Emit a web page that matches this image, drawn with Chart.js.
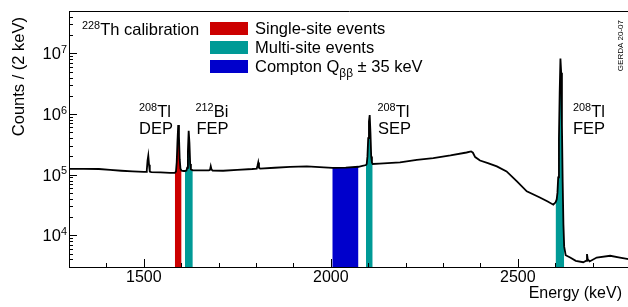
<!DOCTYPE html>
<html><head><meta charset="utf-8">
<script src="https://cdn.jsdelivr.net/npm/chart.js@4.4.1/dist/chart.umd.min.js"></script>
<style>html,body{margin:0;padding:0;background:#fff;overflow:hidden;width:628px;height:307px}canvas{display:block}</style>
</head><body>
<canvas id="c" width="632" height="307" style="width:632px;height:307px"></canvas>
<script>
// ---- data ----
const energy = [1300,1340,1380,1410,1440,1470,1500,1506,1508,1510,1512,1514,1516,1520,1545,1570,
  1583,1586,1588,1590,1592,1594,1596,1598,1601,1606,1610,1614,1616,1618,1620,1622,1624,1626,1631,
  1650,1674,1677,1679,1681,1684,1712,1750,1790,1802,1804,1806,1808,1811,1850,1891,1936,1970,
  2004,2040,2074,2090,2094,2096,2098,2100,2102,2104,2106,2108,2110,2112,2130,2185,2230,2274,2320,
  2363,2375,2380,2386,2399,2420,2444,2470,2497,2524,2559,2580,2595,2601,2604,2606,2608,2610,2612,
  2614,2616,2618,2620,2622,2624,2628,2640,2655,2675,2683,2685,2687,2692,2711,2747,2773,2800];
const counts = [1.25e5,1.25e5,1.24e5,1.2e5,1.16e5,1.13e5,1.11e5,1.11e5,1.18e5,1.7e5,2.05e5,1.45e5,1.12e5,1.1e5,1.09e5,1.07e5,
  1.07e5,1.12e5,1.6e5,3.5e5,6.6e5,4.3e5,1.8e5,1.25e5,1.16e5,1.15e5,1.15e5,1.17e5,1.3e5,2.5e5,5.3e5,3.4e5,1.5e5,1.22e5,1.18e5,
  1.18e5,1.18e5,1.2e5,1.38e5,1.22e5,1.17e5,1.16e5,1.2e5,1.24e5,1.26e5,1.4e5,1.59e5,1.3e5,1.26e5,1.3e5,1.34e5,1.37e5,1.33e5,
  1.29e5,1.31e5,1.35e5,1.42e5,1.44e5,1.5e5,2.0e5,4.0e5,7.5e5,9.6e5,5.0e5,2.0e5,1.58e5,1.5e5,1.52e5,1.59e5,1.76e5,1.88e5,2.08e5,
  2.32e5,2.42e5,2.3e5,1.95e5,1.71e5,1.55e5,1.37e5,1.13e5,7.8e4,5.3e4,4.2e4,3.6e4,3.2e4,3.5e4,3.9e4,5.0e4,9.0e4,4.0e5,2.3e6,
  8.2e6,4.8e6,6.5e5,7.5e4,1.5e4,6.5e3,4.7e3,4.3e3,3.8e3,3.6e3,3.8e3,4.9e3,4.0e3,3.7e3,4.3e3,4.6e3,4.3e3,4.0e3];
const singleSiteRanges = [[1583,1601]];
const multiSiteRanges = [[1610,1631],[2094,2112],[2601,2624]];
const comptonRanges = [[2004,2074]];
const legendLabels = ['Single-site events','Multi-site events','Compton Q'];
const xRange = [1300,2800];
const xTickStep = 100;
const xTickLabels = [1500,2000,2500];
const yRange = [3000,5e7];
const yDecades = [4,5,6,7];

// ---- styling ----
const FONT = '"Liberation Sans", Arial, Helvetica, sans-serif';
const RED = '#cc0000', TEAL = '#009a96', BLUE = '#0000cc';

const pts = energy.map((e,i)=>({x:e,y:counts[i]}));
function band(r,color){
  return {data: pts.filter(p=>p.x>=r[0]&&p.x<=r[1]), borderWidth:0, backgroundColor:color, fill:'start', pointRadius:0};
}
const datasets = [
  {data: pts, borderColor:'#000', borderWidth:1.8, fill:false, pointRadius:0},
  ...singleSiteRanges.map(r=>band(r,RED)),
  ...multiSiteRanges.map(r=>band(r,TEAL)),
  ...comptonRanges.map(r=>band(r,BLUE))
];

const xTicks = [];
for (let v=xRange[0]; v<=xRange[1]; v+=xTickStep) xTicks.push(v);
const yTicks = [];
for (let d=3; d<=7; d++) for (let m=1; m<=9; m++) { const v=m*Math.pow(10,d); if (v>=yRange[0]&&v<=yRange[1]) yTicks.push(v); }

function segWidth(ctx,segs,size){
  let w=0;
  for (const s of segs){ ctx.font=((s.sup||s.sub)?size*0.66:size)+'px '+FONT; w+=ctx.measureText(s.t).width; }
  return w;
}
function rich(ctx,x,y,segs,size){
  ctx.textAlign='left'; ctx.textBaseline='alphabetic';
  for (const s of segs){
    let fs=size, dy=0;
    if (s.sup){fs=size*0.66; dy=-6.5;}
    if (s.sub){fs=size*0.72; dy=5.5;}
    ctx.font=fs+'px '+FONT;
    ctx.fillText(s.t,x,y+dy);
    x+=ctx.measureText(s.t).width;
  }
}

const annot = {
  id:'annot',
  afterDraw(chart){
    const {ctx, chartArea:a, scales:{x:xs,y:ys}} = chart;
    ctx.save();
    ctx.strokeStyle='#000'; ctx.lineWidth=1;
    // top frame line
    ctx.beginPath(); ctx.moveTo(a.left,a.top+0.5); ctx.lineTo(a.right,a.top+0.5); ctx.stroke();
    // inward ticks
    ctx.beginPath();
    for (const v of xTicks){
      const px=Math.round(xs.getPixelForValue(v))+0.5;
      const len = xTickLabels.includes(v)?8:4;
      ctx.moveTo(px,a.bottom); ctx.lineTo(px,a.bottom-len);
    }
    for (const v of yTicks){
      const py=Math.round(ys.getPixelForValue(v))+0.5;
      const major = yDecades.some(d=>Math.abs(v-Math.pow(10,d))<1e-6*v);
      ctx.moveTo(a.left,py); ctx.lineTo(a.left+(major?8:4),py);
    }
    ctx.stroke();

    ctx.fillStyle='#000';
    // y tick labels 10^n
    for (const d of yDecades){
      const py=ys.getPixelForValue(Math.pow(10,d));
      const segs=[{t:'10'},{t:String(d),sup:true}];
      const w=segWidth(ctx,segs,16.5);
      rich(ctx,67-w,py+6,segs,16.5);
    }
    const S=16.5;
    // title
    rich(ctx,82,35,[{t:'228',sup:true},{t:'Th calibration'}],S);
    // peak labels
    rich(ctx,139,117,[{t:'208',sup:true},{t:'Tl'}],S);
    rich(ctx,139,133.5,[{t:'DEP'}],S);
    rich(ctx,195.5,117,[{t:'212',sup:true},{t:'Bi'}],S);
    rich(ctx,196.5,133.5,[{t:'FEP'}],S);
    rich(ctx,377.5,117,[{t:'208',sup:true},{t:'Tl'}],S);
    rich(ctx,378,133.5,[{t:'SEP'}],S);
    rich(ctx,573,117,[{t:'208',sup:true},{t:'Tl'}],S);
    rich(ctx,573,133.5,[{t:'FEP'}],S);
    // legend
    const cols=[RED,TEAL,BLUE];
    const by=[22,41,60];
    for (let i=0;i<3;i++){
      ctx.fillStyle=cols[i]; ctx.fillRect(210,by[i],38,13);
    }
    ctx.fillStyle='#000';
    rich(ctx,255,33.5,[{t:legendLabels[0]}],S);
    rich(ctx,255,52.7,[{t:legendLabels[1]}],S);
    rich(ctx,255,71.7,[{t:legendLabels[2]},{t:'ββ',sub:true},{t:' ± 35 keV'}],S);
    // axis titles
    ctx.font='16px '+FONT;
    ctx.textAlign='right'; ctx.textBaseline='alphabetic';
    ctx.fillText('Energy (keV)',622,298);
    ctx.save(); ctx.translate(24,17); ctx.rotate(-Math.PI/2);
    ctx.font='16.5px '+FONT;
    ctx.fillText('Counts / (2 keV)',0,0); ctx.restore();
    ctx.save(); ctx.translate(623,20); ctx.rotate(-Math.PI/2);
    ctx.font='8px '+FONT; ctx.fillText('GERDA 20-07',0,0); ctx.restore();
    ctx.restore();
  }
};

new Chart(document.getElementById('c'), {
  type:'line',
  data:{datasets},
  options:{
    responsive:false, animation:false, devicePixelRatio:1,
    layout:{padding:{top:11,right:2,left:0,bottom:0}},
    plugins:{legend:{display:false},tooltip:{enabled:false}},
    elements:{line:{tension:0},point:{radius:0}},
    scales:{
      x:{type:'linear',min:xRange[0],max:xRange[1],
        grid:{display:false,drawTicks:false},
        border:{display:true,color:'#000',width:1},
        afterBuildTicks:s=>{s.ticks=xTicks.map(v=>({value:v}));},
        ticks:{autoSkip:false,maxRotation:0,padding:1,color:'#000',font:{family:FONT,size:16},
          callback:v=>xTickLabels.includes(v)?String(v):''},
        afterFit:s=>{s.height=40;}},
      y:{type:'logarithmic',min:yRange[0],max:yRange[1],
        grid:{display:false,drawTicks:false},
        border:{display:true,color:'#000',width:1},
        afterBuildTicks:s=>{s.ticks=yTicks.map(v=>({value:v}));},
        ticks:{display:false},
        afterFit:s=>{s.width=69;}}
    }
  },
  plugins:[annot]
});
</script>
</body></html>
